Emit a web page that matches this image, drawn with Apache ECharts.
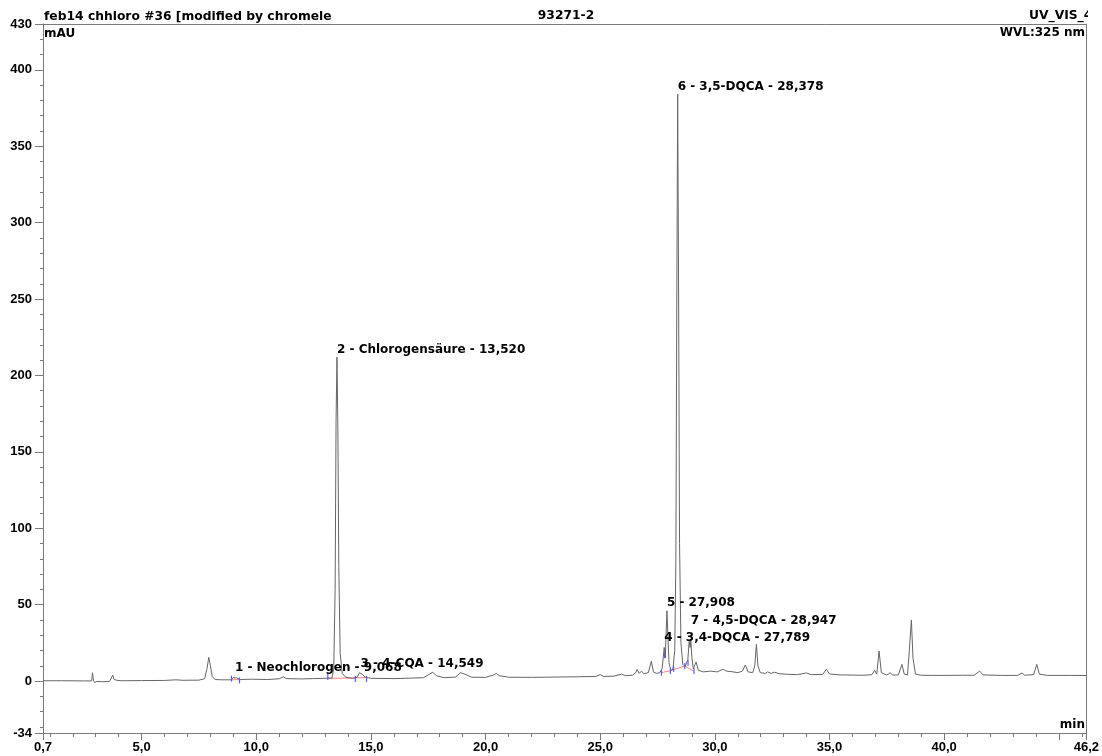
<!DOCTYPE html>
<html>
<head>
<meta charset="utf-8">
<script src="https://cdn.jsdelivr.net/npm/echarts@6/dist/echarts.min.js"></script>
<style>
html,body{margin:0;padding:0;background:#fff;}
#chart{width:1102px;height:756px;}
</style>
</head>
<body>
<div id="chart"></div>
<script>
// ---- data ----
const traceTime = [
  0.7, 1.5, 2.5, 2.82, 2.86, 2.9, 2.95, 3.05, 3.3, 3.6, 3.68, 3.74, 3.8, 3.86, 3.92, 4.1,
  5.0, 6.0, 6.5, 6.8, 7.5, 7.75, 7.85, 7.93, 8.0, 8.08, 8.2, 8.5, 8.9, 9.0, 9.07, 9.15, 9.3,
  9.8, 10.5, 11.0, 11.18, 11.3, 11.6, 12.0, 12.5, 13.0, 13.3, 13.38, 13.44, 13.48, 13.52,
  13.56, 13.60, 13.66, 13.75, 13.9, 14.2, 14.4, 14.5, 14.55, 14.62, 14.75, 15.0, 16.0, 16.5,
  17.3, 17.55, 17.7, 17.85, 18.2, 18.7, 18.9, 18.98, 19.1, 19.4, 20.0, 20.35, 20.47, 20.6,
  21.0, 22.0, 23.0, 24.0, 24.8, 25.0, 25.15, 25.6, 25.93, 26.1, 26.4, 26.55, 26.61, 26.7,
  26.8, 26.9, 27.1, 27.23, 27.32, 27.45, 27.6, 27.7, 27.79, 27.84, 27.87, 27.91, 27.95, 28.0,
  28.08, 28.17, 28.25, 28.30, 28.34, 28.378, 28.42, 28.46, 28.52, 28.6, 28.7, 28.82, 28.88,
  28.92, 28.95, 29.0, 29.06, 29.18, 29.28, 29.5, 29.8, 30.1, 30.36, 30.5, 30.7, 31.0, 31.2,
  31.33, 31.45, 31.65, 31.74, 31.81, 31.88, 31.98, 32.2, 32.3, 32.45, 32.6, 32.8, 33.2, 33.6,
  33.99, 34.2, 34.7, 34.86, 35.0, 35.5, 36.0, 36.5, 36.85, 36.97, 37.06, 37.16, 37.26, 37.5,
  37.65, 37.75, 38.0, 38.16, 38.26, 38.4, 38.48, 38.57, 38.64, 38.75, 39.0, 39.5, 40.0, 40.8,
  41.3, 41.55, 41.7, 42.5, 43.2, 43.4, 43.5, 43.9, 44.04, 44.15, 44.5, 45.5, 46.2
];
const traceSignal = [
  0.2, 0.2, 0.1, 0.1, 5.4, 0.5, -1.0, -0.3, -0.4, -0.3, 1.0, 3.9, 1.0, 1.8, 0.5, 0.2,
  0.3, 0.4, 0.8, 0.5, 0.6, 1.5, 8, 15.5, 10, 3, 1.0, 0.8, 0.8, 2.3, 3.0, 2.0, 1.0,
  1.2, 1.0, 1.5, 2.8, 1.6, 1.5, 1.4, 1.6, 1.8, 2.0, 8, 60, 170, 212,
  165, 75, 18, 5, 2.5, 1.8, 2.5, 5.5, 6, 4.5, 2.5, 1.8, 1.6, 1.8,
  2.2, 4.5, 5.8, 3.5, 2.2, 2.6, 5.5, 6.3, 4.5, 2.5, 2.4, 4, 5, 3.5,
  2.5, 2.4, 2.6, 2.8, 3.0, 4.2, 3.0, 3.2, 4.5, 3.5, 3.8, 5.5, 7.5, 5.0,
  6.5, 4.8, 5.5, 13, 6, 5, 5.5, 8, 22, 15, 30, 46, 30, 12,
  7, 7.7, 20, 80, 250, 384, 250, 90, 25, 11, 9.5, 14, 26,
  22, 27, 15, 8, 12.5, 7, 6, 6.5, 6.0, 7.7, 6.5, 6.2, 5.5, 6.5,
  10.5, 6, 5.5, 10, 24, 10, 5.5, 5.0, 6.0, 5.0, 5.8, 4.8, 4.4, 4.2,
  5.3, 4.2, 4.3, 7.7, 4.6, 4.0, 3.9, 3.8, 4.2, 7, 4.5, 19.7, 5.5, 3.9,
  5.5, 3.9, 4.0, 10.9, 4.5, 4.0, 20, 40, 15, 4.5, 3.8, 3.7, 3.7, 3.8,
  3.8, 6.5, 4.0, 3.7, 3.7, 5.3, 3.8, 4.2, 10.9, 4.5, 3.7, 3.7, 3.6
];
// integration baselines (pink) and peak delimiters (blue)
const baseline1 = [[8.92, 0.8], [9.27, 1.0]];
const baseline2 = [[13.12, 1.8], [14.32, 2.0], [14.81, 2.3]];
const baseline3 = [[27.67, 5.5], [28.06, 6.8], [28.69, 9.8], [29.07, 6.5]];
const delimiters = [[8.92, 1.6], [9.27, 0.4], [13.12, 2.6], [14.32, 1.4], [14.81, 1.4],
  [27.67, 5.5], [27.80, 17], [28.06, 6.5], [28.2, 8], [28.69, 9.8], [28.83, 12], [29.09, 6.5]];
// peak annotations: [retention time, label anchor signal, text]
const peakLabelTime = [9.068, 13.520, 14.549, 27.789, 27.908, 28.378, 28.947];
const peakLabelSignal = [8.5, 217, 11.5, 28.4, 51.3, 388.9, 39.3];
const peakLabelText = [
  '1 - Neochlorogen - 9,068',
  '2 - Chlorogensäure - 13,520',
  '3 - 4-CQA - 14,549',
  '4 - 3,4-DQCA - 27,789',
  '5 - 27,908',
  '6 - 3,5-DQCA - 28,378',
  '7 - 4,5-DQCA - 28,947'
];
// axes
const xMajorTicks = [0.7, 5, 10, 15, 20, 25, 30, 35, 40, 45, 46.2];
const xTickLabels = [0.7, 5, 10, 15, 20, 25, 30, 35, 40, 46.2];
const xMinorTicks = [1,2,3,4,6,7,8,9,11,12,13,14,16,17,18,19,21,22,23,24,26,27,28,29,31,32,33,34,36,37,38,39,41,42,43,44,46];
const yTickLabels = [-34, 0, 50, 100, 150, 200, 250, 300, 350, 400, 430];
const yMinorTicks = [-30,-20,-10,10,20,30,40,60,70,80,90,110,120,130,140,160,170,180,190,210,220,230,240,260,270,280,290,310,320,330,340,360,370,380,390,410,420];
const headerLeft = 'feb14 chhloro #36 [modified by chromele';
const headerMid = '93271-2';
const headerRight = 'UV_VIS_4';
const unitY = 'mAU';
const unitX = 'min';
const wavelength = 'WVL:325 nm';

// ---- chart ----
const AX = '#7a7a7a';
const labelFont = {fontFamily: 'DejaVu Sans', fontWeight: 'bold', fontSize: 12, color: '#000', opacity: 1};
const tickFont = {fontFamily: 'Liberation Sans', fontWeight: 'bold', fontSize: 13, color: '#000'};
const headFont = 'bold 12.3px "DejaVu Sans"';
const unitFont = 'bold 12px "DejaVu Sans"';

const chart = echarts.init(document.getElementById('chart'), null, {renderer: 'canvas'});
const trace = traceTime.map((t, i) => [t, traceSignal[i]]);
const labels = peakLabelTime.map((t, i) => ({value: [t, peakLabelSignal[i]], name: peakLabelText[i]}));

function fmtX(v) { return v.toFixed(1).replace('.', ','); }

chart.setOption({
  animation: false,
  backgroundColor: '#fff',
  grid: {left: 43, right: 15, top: 24, bottom: 23, containLabel: false},
  xAxis: [
    {type: 'value', min: 0.7, max: 46.2, position: 'bottom',
      axisLine: {show: true, onZero: false, lineStyle: {color: AX, width: 1}},
      axisTick: {show: true, customValues: xMajorTicks, length: 7, lineStyle: {color: AX}},
      axisLabel: Object.assign({show: true, customValues: xTickLabels, margin: 8, formatter: fmtX}, tickFont),
      splitLine: {show: false}},
    {type: 'value', min: 0.7, max: 46.2, position: 'bottom',
      axisLine: {show: false, onZero: false},
      axisTick: {show: true, customValues: xMinorTicks, length: 4, lineStyle: {color: AX}},
      axisLabel: {show: false}, splitLine: {show: false}},
    {type: 'value', min: 0.7, max: 46.2, position: 'top',
      axisLine: {show: true, onZero: false, lineStyle: {color: AX, width: 1}},
      axisTick: {show: false}, axisLabel: {show: false}, splitLine: {show: false}}
  ],
  yAxis: [
    {type: 'value', min: -34, max: 430, position: 'left',
      axisLine: {show: true, onZero: false, lineStyle: {color: AX, width: 1}},
      axisTick: {show: true, customValues: yTickLabels, length: 8, lineStyle: {color: AX}},
      axisLabel: Object.assign({show: true, customValues: yTickLabels, margin: 11}, tickFont),
      splitLine: {show: false}},
    {type: 'value', min: -34, max: 430, position: 'left',
      axisLine: {show: false, onZero: false},
      axisTick: {show: true, customValues: yMinorTicks, length: 3, lineStyle: {color: AX}},
      axisLabel: {show: false}, splitLine: {show: false}},
    {type: 'value', min: -34, max: 430, position: 'right',
      axisLine: {show: true, onZero: false, lineStyle: {color: AX, width: 1}},
      axisTick: {show: false}, axisLabel: {show: false}, splitLine: {show: false}}
  ],
  series: [
    {type: 'line', data: baseline1, symbol: 'none', lineStyle: {color: '#ff7f7f', width: 1}, z: 2},
    {type: 'line', data: baseline2, symbol: 'none', lineStyle: {color: '#ff7f7f', width: 1}, z: 2},
    {type: 'line', data: baseline3, symbol: 'none', lineStyle: {color: '#ff7f7f', width: 1}, z: 2},
    {type: 'line', data: trace, symbol: 'none', sampling: null,
      lineStyle: {color: '#666', width: 1}, z: 3},
    {type: 'scatter', data: delimiters, symbol: 'rect', symbolSize: [1.2, 6],
      itemStyle: {color: '#5a5aff', opacity: 1}, z: 4},
    {type: 'scatter', data: labels, symbolSize: 0, z: 5, itemStyle: {opacity: 1},
      label: Object.assign({show: true, position: 'right', distance: 0,
        formatter: p => p.name}, labelFont)}
  ],
  graphic: [
    {type: 'text', x: 44, y: 17, z: 10, style: {text: headerLeft, font: headFont, fill: '#000', align: 'left', verticalAlign: 'middle'}},
    {type: 'text', x: 566, y: 16, z: 10, style: {text: headerMid, font: headFont, fill: '#000', align: 'center', verticalAlign: 'middle'}},
    {type: 'text', x: 1029, y: 16, z: 10, style: {text: headerRight, font: headFont, fill: '#000', align: 'left', verticalAlign: 'middle'}},
    {type: 'rect', z: 20, shape: {x: 1088, y: 4, width: 14, height: 19}, style: {fill: '#fff'}},
    {type: 'text', x: 44, y: 34, z: 10, style: {text: unitY, font: unitFont, fill: '#000', align: 'left', verticalAlign: 'middle'}},
    {type: 'text', x: 1085, y: 33, z: 10, style: {text: wavelength, font: unitFont, fill: '#000', align: 'right', verticalAlign: 'middle'}},
    {type: 'text', x: 1085, y: 725, z: 10, style: {text: unitX, font: unitFont, fill: '#000', align: 'right', verticalAlign: 'middle'}}
  ]
});
</script>
</body>
</html>
